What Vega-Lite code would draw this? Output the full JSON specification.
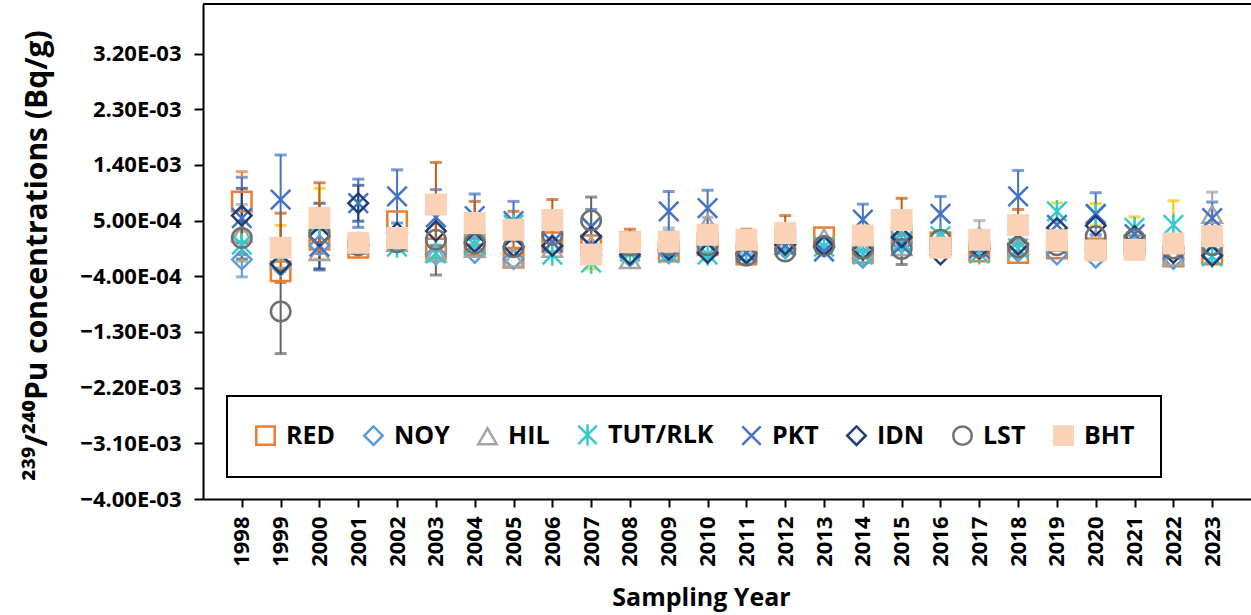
{
  "$schema": "https://vega.github.io/schema/vega-lite/v6.json",
  "autosize": {"type": "none"},
  "padding": {"left": 203, "top": 4, "right": 0, "bottom": 116},
  "width": 1048,
  "height": 495,
  "background": "white",
  "config": {
    "view": {"stroke": null},
    "font": "Open Sans",
    "axis": {"domainColor": "#000", "domainWidth": 2, "tickColor": "#000", "tickWidth": 2, "labelColor": "#000", "labelFont": "Open Sans", "labelFontWeight": "bold", "labelFontSize": 22, "titleFont": "Open Sans", "titleFontWeight": "bold", "titleColor": "#000", "grid": false},
    "axisX": {"tickSize": 8, "labelAngle": -90, "labelPadding": 9, "titleFontSize": 25, "titleX": 498, "titleY": 98, "titleBaseline": "middle", "titleAlign": "center"},
    "axisY": {"tickSize": 9, "labelPadding": 13, "titleFontSize": 30, "titleX": -166, "titleY": 251, "titleBaseline": "middle", "titleAlign": "center", "titleAngle": -90},
    "legend": {"orient": "none", "legendX": 24, "legendY": 392, "direction": "horizontal", "columns": 8,
               "strokeColor": "#000", "strokeWidth": 2, "fillColor": "#fff", "padding": 26,
               "labelFont": "Open Sans", "labelFontWeight": "bold", "labelFontSize": 25, "labelColor": "#000",
               "symbolSize": 340, "symbolStrokeWidth": 2.5, "labelOffset": 8, "columnPadding": 23}
  },
  "datasets": {
    "pu": [
      {"site": "RED", "year": 1998, "v": 8.1e-4, "err": 4.8e-4},
      {"site": "RED", "year": 1999, "v": -3.2e-4},
      {"site": "RED", "year": 2000, "v": 1.9e-4},
      {"site": "RED", "year": 2001, "v": 0.6e-4},
      {"site": "RED", "year": 2002, "v": 4.9e-4},
      {"site": "RED", "year": 2003, "v": 0.5e-4},
      {"site": "RED", "year": 2004, "v": 1.0e-4},
      {"site": "RED", "year": 2005, "v": -1.0e-4},
      {"site": "RED", "year": 2006, "v": 1.5e-4},
      {"site": "RED", "year": 2007, "v": 1.0e-4},
      {"site": "RED", "year": 2008, "v": 1.5e-4},
      {"site": "RED", "year": 2009, "v": 0},
      {"site": "RED", "year": 2010, "v": 1.0e-4},
      {"site": "RED", "year": 2011, "v": -0.5e-4},
      {"site": "RED", "year": 2012, "v": 1.8e-4},
      {"site": "RED", "year": 2013, "v": 2.3e-4},
      {"site": "RED", "year": 2014, "v": -0.2e-4},
      {"site": "RED", "year": 2015, "v": 2.5e-4},
      {"site": "RED", "year": 2016, "v": 1.5e-4},
      {"site": "RED", "year": 2017, "v": 0},
      {"site": "RED", "year": 2018, "v": -0.25e-4},
      {"site": "RED", "year": 2019, "v": 0.5e-4},
      {"site": "RED", "year": 2020, "v": 0.5e-4},
      {"site": "RED", "year": 2021, "v": 1.0e-4},
      {"site": "RED", "year": 2022, "v": -0.8e-4},
      {"site": "RED", "year": 2023, "v": -0.5e-4},
      {"site": "NOY", "year": 1998, "v": -1.3e-4, "err": 2.8e-4},
      {"site": "NOY", "year": 1999, "v": -2.3e-4},
      {"site": "NOY", "year": 2000, "v": 1.0e-4},
      {"site": "NOY", "year": 2001, "v": 1.0e-4},
      {"site": "NOY", "year": 2002, "v": 1.5e-4},
      {"site": "NOY", "year": 2003, "v": -0.5e-4},
      {"site": "NOY", "year": 2004, "v": -0.25e-4},
      {"site": "NOY", "year": 2005, "v": -1.2e-4},
      {"site": "NOY", "year": 2006, "v": 1.0e-4},
      {"site": "NOY", "year": 2007, "v": 0.5e-4},
      {"site": "NOY", "year": 2008, "v": -0.8e-4},
      {"site": "NOY", "year": 2009, "v": -0.3e-4},
      {"site": "NOY", "year": 2010, "v": 0},
      {"site": "NOY", "year": 2011, "v": -0.5e-4},
      {"site": "NOY", "year": 2012, "v": 0.5e-4},
      {"site": "NOY", "year": 2013, "v": 0.8e-4},
      {"site": "NOY", "year": 2014, "v": -1.0e-4},
      {"site": "NOY", "year": 2015, "v": 1.4e-4},
      {"site": "NOY", "year": 2016, "v": 1.0e-4},
      {"site": "NOY", "year": 2017, "v": 0.3e-4},
      {"site": "NOY", "year": 2018, "v": 0},
      {"site": "NOY", "year": 2019, "v": -0.5e-4},
      {"site": "NOY", "year": 2020, "v": -1.0e-4},
      {"site": "NOY", "year": 2021, "v": 0.5e-4},
      {"site": "NOY", "year": 2022, "v": -1.2e-4},
      {"site": "NOY", "year": 2023, "v": -0.5e-4},
      {"site": "HIL", "year": 1998, "v": 3.0e-4, "err": 4.6e-4},
      {"site": "HIL", "year": 1999, "v": -1.3e-4},
      {"site": "HIL", "year": 2000, "v": 0},
      {"site": "HIL", "year": 2001, "v": 1.0e-4},
      {"site": "HIL", "year": 2002, "v": 1.5e-4},
      {"site": "HIL", "year": 2003, "v": -0.2e-4},
      {"site": "HIL", "year": 2004, "v": 0.5e-4},
      {"site": "HIL", "year": 2005, "v": -1.05e-4},
      {"site": "HIL", "year": 2006, "v": 0.5e-4},
      {"site": "HIL", "year": 2007, "v": 1.0e-4},
      {"site": "HIL", "year": 2008, "v": -1.3e-4},
      {"site": "HIL", "year": 2009, "v": 1.5e-4, "err": 2.3e-4},
      {"site": "HIL", "year": 2010, "v": 4.5e-4, "err": 1.0e-4},
      {"site": "HIL", "year": 2011, "v": 0},
      {"site": "HIL", "year": 2012, "v": 1.0e-4},
      {"site": "HIL", "year": 2013, "v": 2.2e-4},
      {"site": "HIL", "year": 2014, "v": 0.3e-4},
      {"site": "HIL", "year": 2015, "v": 0.8e-4},
      {"site": "HIL", "year": 2016, "v": 2.0e-4},
      {"site": "HIL", "year": 2017, "v": 2.5e-4, "err": 2.5e-4},
      {"site": "HIL", "year": 2018, "v": 1.0e-4},
      {"site": "HIL", "year": 2019, "v": 1.5e-4},
      {"site": "HIL", "year": 2020, "v": 2.0e-4},
      {"site": "HIL", "year": 2021, "v": 1.5e-4},
      {"site": "HIL", "year": 2022, "v": -0.8e-4},
      {"site": "HIL", "year": 2023, "v": 6.0e-4, "err": 3.6e-4},
      {"site": "TUT/RLK", "year": 1998, "v": 1.1e-4, "err": 2.4e-4},
      {"site": "TUT/RLK", "year": 1999, "v": 0.5e-4, "err": 3.7e-4},
      {"site": "TUT/RLK", "year": 2000, "v": 4.5e-4, "err": 5.7e-4},
      {"site": "TUT/RLK", "year": 2001, "v": 1.4e-4},
      {"site": "TUT/RLK", "year": 2002, "v": 0.8e-4},
      {"site": "TUT/RLK", "year": 2003, "v": -0.3e-4},
      {"site": "TUT/RLK", "year": 2004, "v": 1.1e-4},
      {"site": "TUT/RLK", "year": 2005, "v": 4.3e-4},
      {"site": "TUT/RLK", "year": 2006, "v": -0.5e-4},
      {"site": "TUT/RLK", "year": 2007, "v": -1.8e-4, "err": 1.0e-4},
      {"site": "TUT/RLK", "year": 2008, "v": 0},
      {"site": "TUT/RLK", "year": 2009, "v": -0.25e-4},
      {"site": "TUT/RLK", "year": 2010, "v": -0.5e-4},
      {"site": "TUT/RLK", "year": 2011, "v": 0},
      {"site": "TUT/RLK", "year": 2012, "v": 0.8e-4},
      {"site": "TUT/RLK", "year": 2013, "v": 0.8e-4},
      {"site": "TUT/RLK", "year": 2014, "v": -0.5e-4},
      {"site": "TUT/RLK", "year": 2015, "v": 1.5e-4},
      {"site": "TUT/RLK", "year": 2016, "v": 2.5e-4},
      {"site": "TUT/RLK", "year": 2017, "v": -0.3e-4},
      {"site": "TUT/RLK", "year": 2018, "v": 0.5e-4},
      {"site": "TUT/RLK", "year": 2019, "v": 6.5e-4, "err": 1.35e-4},
      {"site": "TUT/RLK", "year": 2020, "v": 5.95e-4, "err": 1.8e-4},
      {"site": "TUT/RLK", "year": 2021, "v": 3.8e-4, "err": 1.8e-4},
      {"site": "TUT/RLK", "year": 2022, "v": 4.3e-4, "err": 3.9e-4},
      {"site": "TUT/RLK", "year": 2023, "v": -0.8e-4},
      {"site": "PKT", "year": 1998, "v": 5.4e-4, "err": 6.6e-4},
      {"site": "PKT", "year": 1999, "v": 8.4e-4, "err": 7.2e-4},
      {"site": "PKT", "year": 2000, "v": 0.8e-4, "err": 3.8e-4},
      {"site": "PKT", "year": 2001, "v": 7.8e-4, "err": 3.9e-4},
      {"site": "PKT", "year": 2002, "v": 8.9e-4, "err": 4.3e-4},
      {"site": "PKT", "year": 2003, "v": 5.5e-4, "err": 4.5e-4},
      {"site": "PKT", "year": 2004, "v": 5.7e-4, "err": 3.6e-4},
      {"site": "PKT", "year": 2005, "v": 4.9e-4, "err": 3.2e-4},
      {"site": "PKT", "year": 2006, "v": 1.5e-4},
      {"site": "PKT", "year": 2007, "v": 4.0e-4, "err": 2.8e-4},
      {"site": "PKT", "year": 2008, "v": 0.5e-4},
      {"site": "PKT", "year": 2009, "v": 6.5e-4, "err": 3.2e-4},
      {"site": "PKT", "year": 2010, "v": 7.0e-4, "err": 2.9e-4},
      {"site": "PKT", "year": 2011, "v": -0.2e-4},
      {"site": "PKT", "year": 2012, "v": 1.0e-4},
      {"site": "PKT", "year": 2013, "v": 0},
      {"site": "PKT", "year": 2014, "v": 5.15e-4, "err": 2.5e-4},
      {"site": "PKT", "year": 2015, "v": 1.0e-4},
      {"site": "PKT", "year": 2016, "v": 6.1e-4, "err": 2.8e-4},
      {"site": "PKT", "year": 2017, "v": 0.5e-4},
      {"site": "PKT", "year": 2018, "v": 8.9e-4, "err": 4.2e-4},
      {"site": "PKT", "year": 2019, "v": 4.3e-4},
      {"site": "PKT", "year": 2020, "v": 6.1e-4, "err": 3.4e-4},
      {"site": "PKT", "year": 2021, "v": 2.8e-4},
      {"site": "PKT", "year": 2022, "v": 0.5e-4},
      {"site": "PKT", "year": 2023, "v": 5.4e-4, "err": 2.6e-4},
      {"site": "IDN", "year": 1998, "v": 5.8e-4, "err": 4.4e-4},
      {"site": "IDN", "year": 1999, "v": -2.0e-4},
      {"site": "IDN", "year": 2000, "v": 2.5e-4, "err": 5.3e-4},
      {"site": "IDN", "year": 2001, "v": 7.8e-4, "err": 2.9e-4},
      {"site": "IDN", "year": 2002, "v": 3.0e-4},
      {"site": "IDN", "year": 2003, "v": 3.3e-4},
      {"site": "IDN", "year": 2004, "v": 1.5e-4},
      {"site": "IDN", "year": 2005, "v": 0.8e-4},
      {"site": "IDN", "year": 2006, "v": 0.9e-4},
      {"site": "IDN", "year": 2007, "v": 2.4e-4},
      {"site": "IDN", "year": 2008, "v": -0.5e-4},
      {"site": "IDN", "year": 2009, "v": 0.3e-4},
      {"site": "IDN", "year": 2010, "v": -0.25e-4},
      {"site": "IDN", "year": 2011, "v": -0.3e-4},
      {"site": "IDN", "year": 2012, "v": 1.1e-4},
      {"site": "IDN", "year": 2013, "v": 0.9e-4},
      {"site": "IDN", "year": 2014, "v": 0.3e-4},
      {"site": "IDN", "year": 2015, "v": 2.3e-4},
      {"site": "IDN", "year": 2016, "v": -0.5e-4},
      {"site": "IDN", "year": 2017, "v": 0.5e-4},
      {"site": "IDN", "year": 2018, "v": 1.1e-4},
      {"site": "IDN", "year": 2019, "v": 3.8e-4},
      {"site": "IDN", "year": 2020, "v": 4.2e-4},
      {"site": "IDN", "year": 2021, "v": 2.5e-4},
      {"site": "IDN", "year": 2022, "v": -0.25e-4},
      {"site": "IDN", "year": 2023, "v": -0.7e-4},
      {"site": "LST", "year": 1998, "v": 2.2e-4, "err": 2.7e-4},
      {"site": "LST", "year": 1999, "v": -9.7e-4, "err": 6.8e-4},
      {"site": "LST", "year": 2000, "v": 3.0e-4},
      {"site": "LST", "year": 2001, "v": 1.0e-4},
      {"site": "LST", "year": 2002, "v": 1.5e-4},
      {"site": "LST", "year": 2003, "v": 1.9e-4, "err": 5.7e-4},
      {"site": "LST", "year": 2004, "v": 1.3e-4},
      {"site": "LST", "year": 2005, "v": 0.7e-4},
      {"site": "LST", "year": 2006, "v": 2.7e-4},
      {"site": "LST", "year": 2007, "v": 5.0e-4, "err": 3.8e-4},
      {"site": "LST", "year": 2008, "v": 1.0e-4},
      {"site": "LST", "year": 2009, "v": 1.0e-4},
      {"site": "LST", "year": 2010, "v": 1.0e-4},
      {"site": "LST", "year": 2011, "v": -0.7e-4},
      {"site": "LST", "year": 2012, "v": 0},
      {"site": "LST", "year": 2013, "v": 0.9e-4},
      {"site": "LST", "year": 2014, "v": 0.5e-4},
      {"site": "LST", "year": 2015, "v": 0.4e-4, "err": 2.5e-4},
      {"site": "LST", "year": 2016, "v": 1.9e-4},
      {"site": "LST", "year": 2017, "v": 0.7e-4},
      {"site": "LST", "year": 2018, "v": 0.7e-4},
      {"site": "LST", "year": 2019, "v": 1.0e-4},
      {"site": "LST", "year": 2020, "v": 2.45e-4},
      {"site": "LST", "year": 2021, "v": 2.0e-4},
      {"site": "LST", "year": 2022, "v": 0.5e-4},
      {"site": "LST", "year": 2023, "v": 1.0e-4},
      {"site": "BHT", "year": 1999, "v": 0.6e-4, "err": 5.6e-4},
      {"site": "BHT", "year": 2000, "v": 5.4e-4, "err": 5.7e-4},
      {"site": "BHT", "year": 2001, "v": 1.4e-4},
      {"site": "BHT", "year": 2002, "v": 2.2e-4},
      {"site": "BHT", "year": 2003, "v": 7.6e-4, "err": 6.8e-4},
      {"site": "BHT", "year": 2004, "v": 4.6e-4, "err": 3.5e-4},
      {"site": "BHT", "year": 2005, "v": 3.5e-4, "err": 3.0e-4},
      {"site": "BHT", "year": 2006, "v": 5.1e-4, "err": 3.3e-4},
      {"site": "BHT", "year": 2007, "v": -0.5e-4},
      {"site": "BHT", "year": 2008, "v": 1.5e-4, "err": 2.1e-4},
      {"site": "BHT", "year": 2009, "v": 1.6e-4},
      {"site": "BHT", "year": 2010, "v": 2.7e-4, "err": 1.6e-4},
      {"site": "BHT", "year": 2011, "v": 1.9e-4, "err": 1.7e-4},
      {"site": "BHT", "year": 2012, "v": 3.0e-4, "err": 2.8e-4},
      {"site": "BHT", "year": 2014, "v": 2.6e-4},
      {"site": "BHT", "year": 2015, "v": 5.1e-4, "err": 3.5e-4},
      {"site": "BHT", "year": 2016, "v": 0.6e-4},
      {"site": "BHT", "year": 2017, "v": 1.9e-4},
      {"site": "BHT", "year": 2018, "v": 4.3e-4, "err": 2.5e-4},
      {"site": "BHT", "year": 2019, "v": 1.8e-4},
      {"site": "BHT", "year": 2020, "v": 0.15e-4},
      {"site": "BHT", "year": 2021, "v": 0.3e-4},
      {"site": "BHT", "year": 2022, "v": 1.3e-4},
      {"site": "BHT", "year": 2023, "v": 2.45e-4, "err": 1.5e-4}
    ]
  },
  "layer": [
    {
      "data": {"values": [{"top": 0.004}]},
      "mark": {"type": "rule", "color": "#000", "strokeWidth": 2},
      "encoding": {"y": {"field": "top", "type": "quantitative", "title": "²³⁹/²⁴⁰Pu concentrations (Bq/g)"}}
    },
    {
      "data": {"name": "pu"},
      "transform": [{"filter": "isValid(datum.err)"}],
      "mark": {"type": "errorbar", "ticks": {"size": 10, "strokeWidth": 2}, "rule": {"strokeWidth": 2}},
      "encoding": {
        "x": {"field": "year", "type": "quantitative", "title": "Sampling Year"},
        "y": {"field": "v", "type": "quantitative", "title": "²³⁹/²⁴⁰Pu concentrations (Bq/g)"},
        "yError": {"field": "err"},
        "stroke": {"field": "site", "type": "nominal", "legend": null,
          "scale": {"domain": ["RED", "NOY", "HIL", "TUT/RLK", "PKT", "IDN", "LST", "BHT"],
                    "range": ["#ED7D31", "#5B9BD5", "#A5A5A5", "#FFC000", "#4472C4", "#264478", "#636363", "#C55A11"]}}
      }
    },
    {
      "data": {"name": "pu"},
      "mark": {"type": "point", "size": 380, "strokeWidth": 2.5, "opacity": 1},
      "encoding": {
        "x": {"field": "year", "type": "quantitative", "title": "Sampling Year",
          "scale": {"domain": [1997, 2024], "nice": false, "zero": false},
          "axis": {"values": [1998,1999,2000,2001,2002,2003,2004,2005,2006,2007,2008,2009,2010,2011,2012,2013,2014,2015,2016,2017,2018,2019,2020,2021,2022,2023], "format": "d"}},
        "y": {"field": "v", "type": "quantitative", "title": "²³⁹/²⁴⁰Pu concentrations (Bq/g)",
          "scale": {"domain": [-0.004, 0.004], "nice": false, "zero": false},
          "axis": {"values": [-0.004, -0.0031, -0.0022, -0.0013, -0.0004, 0.0005, 0.0014, 0.0023, 0.0032],
                   "labelExpr": "replace(format(datum.value, '.2e'), 'e-', 'E-0')"}},
        "shape": {"field": "site", "type": "nominal", "title": null,
          "scale": {"domain": ["RED", "NOY", "HIL", "TUT/RLK", "PKT", "IDN", "LST", "BHT"],
                    "range": ["square", "diamond", "triangle-up", "M-1,-1L1,1M1,-1L-1,1M0,-1.15L0,1.15", "M-1,-1L1,1M1,-1L-1,1", "diamond", "circle", "square"]}},
        "color": {"field": "site", "type": "nominal", "title": null,
          "scale": {"domain": ["RED", "NOY", "HIL", "TUT/RLK", "PKT", "IDN", "LST", "BHT"],
                    "range": ["#ED7D31", "#5B9BD5", "#A5A5A5", "#33CCCC", "#4472C4", "#1F3D73", "#707070", "#F9D2B8"]}},
        "fill": {"field": "site", "type": "nominal", "title": null,
          "scale": {"domain": ["RED", "NOY", "HIL", "TUT/RLK", "PKT", "IDN", "LST", "BHT"],
                    "range": ["transparent", "transparent", "transparent", "transparent", "transparent", "transparent", "transparent", "#F9D2B8"]}}
      }
    }
  ],
  "resolve": {"scale": {"stroke": "independent"}}
}
